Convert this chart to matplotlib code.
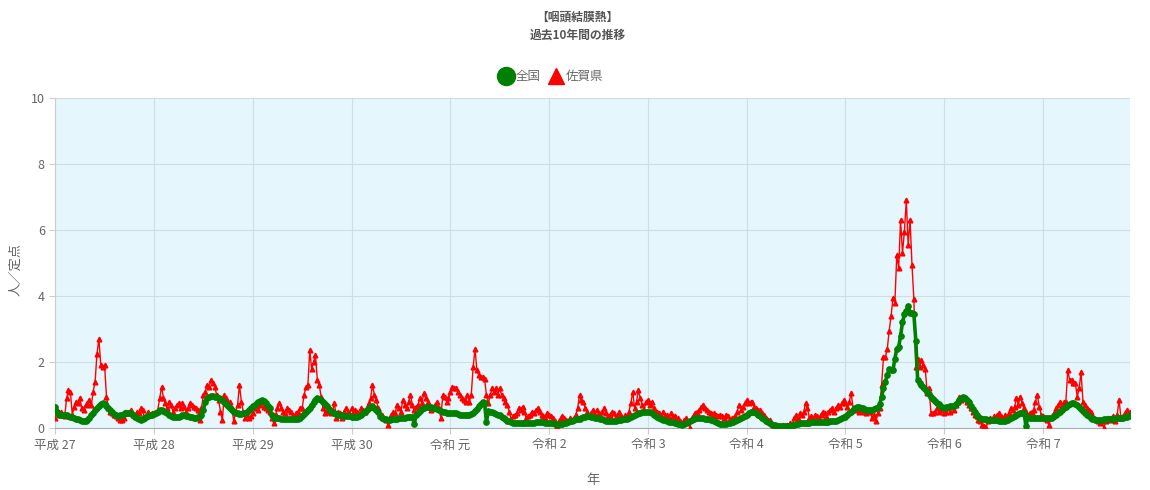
# -*- coding: utf-8 -*-
# %% importing
import matplotlib as mpl
from matplotlib import pyplot as plt
import numpy as np

plt.rcParams['font.family'] = ['Noto Sans CJK JP', 'DejaVu Sans']

# %% data (weekly values, 人/定点)
year_labels = ['平成 27', '平成 28', '平成 29', '平成 30', '令和 元', '令和 2',
               '令和 3', '令和 4', '令和 5', '令和 6', '令和 7']

# 全国
zenkoku_h27 = [0.65, 0.50, 0.40, 0.38, 0.40, 0.40, 0.38, 0.36, 0.34, 0.32, 0.30, 0.28, 0.26,
               0.24, 0.22, 0.20, 0.21, 0.24, 0.30, 0.38, 0.46, 0.54, 0.62, 0.68, 0.74, 0.76,
               0.73, 0.68, 0.62, 0.55, 0.48, 0.42, 0.38, 0.36, 0.38, 0.40, 0.42, 0.44, 0.45,
               0.45, 0.44, 0.40, 0.34, 0.30, 0.26, 0.25, 0.26, 0.30, 0.34, 0.36, 0.38, 0.40]
zenkoku_h28 = [0.42, 0.46, 0.50, 0.54, 0.55, 0.52, 0.48, 0.44, 0.40, 0.36, 0.34, 0.33, 0.33,
               0.34, 0.36, 0.38, 0.38, 0.36, 0.35, 0.34, 0.32, 0.30, 0.30, 0.32, 0.35, 0.40,
               0.55, 0.80, 0.90, 0.94, 0.96, 0.96, 0.95, 0.93, 0.90, 0.88, 0.85, 0.80, 0.74,
               0.68, 0.62, 0.56, 0.50, 0.46, 0.44, 0.42, 0.42, 0.44, 0.46, 0.50, 0.56, 0.62]
zenkoku_h29 = [0.66, 0.70, 0.75, 0.80, 0.82, 0.85, 0.82, 0.76, 0.68, 0.60, 0.40, 0.30, 0.30,
               0.29, 0.29, 0.28, 0.28, 0.28, 0.27, 0.27, 0.27, 0.27, 0.26, 0.26, 0.27, 0.30,
               0.36, 0.42, 0.48, 0.55, 0.62, 0.70, 0.78, 0.85, 0.90, 0.88, 0.84, 0.80, 0.74,
               0.66, 0.58, 0.52, 0.48, 0.45, 0.42, 0.40, 0.40, 0.38, 0.37, 0.36, 0.35, 0.35]
zenkoku_h30 = [0.34, 0.33, 0.33, 0.34, 0.36, 0.40, 0.45, 0.50, 0.56, 0.62, 0.65, 0.66, 0.62,
               0.56, 0.50, 0.36, 0.30, 0.28, 0.26, 0.25, 0.25, 0.26, 0.27, 0.28, 0.28, 0.29,
               0.30, 0.30, 0.31, 0.32, 0.33, 0.34, 0.34, 0.12, 0.40, 0.46, 0.52, 0.58, 0.62,
               0.64, 0.65, 0.65, 0.64, 0.62, 0.60, 0.57, 0.54, 0.52, 0.50, 0.48, 0.46, 0.45]
zenkoku_r1 = [0.44, 0.44, 0.45, 0.44, 0.42, 0.40, 0.40, 0.38, 0.38, 0.38, 0.40, 0.42, 0.46,
              0.52, 0.58, 0.66, 0.74, 0.80, 0.76, 0.18, 0.52, 0.50, 0.48, 0.45, 0.42, 0.40,
              0.38, 0.34, 0.30, 0.26, 0.22, 0.20, 0.18, 0.16, 0.15, 0.14, 0.14, 0.14, 0.14,
              0.15, 0.15, 0.15, 0.15, 0.16, 0.16, 0.17, 0.18, 0.18, 0.18, 0.17, 0.16, 0.16]
zenkoku_r2 = [0.16, 0.15, 0.14, 0.13, 0.12, 0.12, 0.12, 0.13, 0.14, 0.16, 0.18, 0.20, 0.22,
              0.24, 0.26, 0.27, 0.28, 0.30, 0.32, 0.34, 0.35, 0.35, 0.34, 0.32, 0.31, 0.30,
              0.30, 0.28, 0.26, 0.24, 0.22, 0.21, 0.20, 0.20, 0.21, 0.22, 0.23, 0.24, 0.25,
              0.26, 0.27, 0.28, 0.30, 0.33, 0.36, 0.39, 0.42, 0.44, 0.46, 0.48, 0.50, 0.50]
zenkoku_r3 = [0.50, 0.48, 0.44, 0.40, 0.36, 0.33, 0.30, 0.27, 0.25, 0.23, 0.21, 0.19, 0.18,
              0.17, 0.16, 0.15, 0.13, 0.11, 0.10, 0.12, 0.15, 0.18, 0.21, 0.24, 0.27, 0.29,
              0.30, 0.31, 0.30, 0.29, 0.28, 0.27, 0.26, 0.25, 0.23, 0.20, 0.17, 0.15, 0.13,
              0.12, 0.12, 0.13, 0.14, 0.15, 0.17, 0.19, 0.22, 0.25, 0.28, 0.31, 0.34, 0.37]
zenkoku_r4 = [0.40, 0.44, 0.48, 0.50, 0.48, 0.44, 0.40, 0.35, 0.30, 0.26, 0.22, 0.18, 0.15,
              0.12, 0.10, 0.08, 0.07, 0.06, 0.05, 0.05, 0.05, 0.05, 0.06, 0.07, 0.08, 0.10,
              0.11, 0.13, 0.14, 0.15, 0.15, 0.16, 0.16, 0.16, 0.17, 0.17, 0.17, 0.18, 0.18,
              0.18, 0.18, 0.19, 0.19, 0.19, 0.20, 0.20, 0.21, 0.22, 0.24, 0.27, 0.30, 0.34]
zenkoku_r5 = [0.34, 0.38, 0.44, 0.50, 0.55, 0.60, 0.65, 0.64, 0.62, 0.60, 0.58, 0.56, 0.55,
              0.55, 0.56, 0.58, 0.60, 0.62, 0.72, 0.95, 1.20, 1.40, 1.60, 1.80, 1.75, 1.75,
              2.10, 2.40, 2.45, 2.80, 3.20, 3.45, 3.55, 3.70, 3.50, 3.50, 3.45, 2.65, 1.45,
              1.35, 1.30, 1.25, 1.18, 1.10, 1.02, 0.95, 0.88, 0.82, 0.76, 0.72, 0.68, 0.65]
zenkoku_r6 = [0.62, 0.64, 0.65, 0.66, 0.66, 0.68, 0.72, 0.78, 0.85, 0.90, 0.94, 0.92, 0.86,
              0.78, 0.68, 0.58, 0.48, 0.40, 0.34, 0.30, 0.28, 0.27, 0.26, 0.25, 0.25, 0.25,
              0.25, 0.25, 0.24, 0.22, 0.21, 0.20, 0.21, 0.23, 0.26, 0.30, 0.34, 0.37, 0.40,
              0.42, 0.44, 0.45, 0.46, 0.05, 0.32, 0.30, 0.30, 0.30, 0.30, 0.30, 0.30, 0.30]
zenkoku_r7 = [0.30, 0.30, 0.30, 0.30, 0.31, 0.33, 0.36, 0.40, 0.45, 0.50, 0.55, 0.60, 0.65,
              0.70, 0.73, 0.75, 0.76, 0.74, 0.70, 0.64, 0.58, 0.52, 0.46, 0.40, 0.35, 0.31,
              0.28, 0.26, 0.25, 0.25, 0.25, 0.25, 0.26, 0.26, 0.27, 0.27, 0.28, 0.28, 0.29,
              0.30, 0.30, 0.30, 0.31, 0.32, 0.33, 0.35, 0.38]

# 佐賀県
saga_h27 = [0.30, 0.55, 0.45, 0.50, 0.40, 0.35, 0.90, 1.15, 1.10, 0.40, 0.65, 0.80, 0.75,
            0.90, 0.60, 0.55, 0.70, 0.75, 0.85, 0.70, 1.10, 1.40, 2.25, 2.70, 1.90, 1.85,
            1.90, 0.95, 0.60, 0.50, 0.45, 0.40, 0.35, 0.30, 0.25, 0.25, 0.30, 0.50, 0.45,
            0.50, 0.55, 0.40, 0.35, 0.50, 0.45, 0.60, 0.55, 0.30, 0.35, 0.50, 0.40, 0.45]
saga_h28 = [0.45, 0.50, 0.55, 0.90, 1.25, 0.90, 0.75, 0.60, 0.80, 0.70, 0.50, 0.60, 0.70,
            0.75, 0.60, 0.75, 0.65, 0.50, 0.60, 0.75, 0.70, 0.65, 0.60, 0.55, 0.25, 0.60,
            1.00, 1.10, 1.30, 1.25, 1.45, 1.35, 1.25, 1.00, 0.85, 0.50, 0.25, 1.00, 0.90,
            0.75, 0.80, 0.60, 0.20, 0.50, 0.70, 1.30, 0.80, 0.50, 0.30, 0.40, 0.30, 0.35]
saga_h29 = [0.45, 0.60, 0.80, 0.55, 0.70, 0.80, 0.65, 0.60, 0.55, 0.50, 0.30, 0.15, 0.40,
            0.60, 0.75, 0.60, 0.50, 0.45, 0.60, 0.55, 0.50, 0.40, 0.35, 0.45, 0.50, 0.60,
            0.60, 1.00, 1.25, 1.30, 2.35, 1.80, 2.00, 2.20, 1.45, 1.30, 0.95, 0.60, 0.45,
            0.50, 0.60, 0.45, 0.50, 0.75, 0.30, 0.50, 0.45, 0.30, 0.50, 0.60, 0.50, 0.40]
saga_h30 = [0.60, 0.45, 0.55, 0.50, 0.40, 0.60, 0.55, 0.50, 0.60, 0.75, 0.90, 1.30, 1.00,
            0.85, 0.60, 0.35, 0.40, 0.30, 0.25, 0.10, 0.30, 0.40, 0.50, 0.45, 0.70, 0.60,
            0.50, 0.85, 0.70, 0.60, 0.80, 1.00, 0.70, 0.55, 0.65, 0.70, 0.90, 0.75, 1.05,
            0.90, 0.80, 0.70, 0.55, 0.60, 0.70, 0.80, 0.60, 0.30, 1.00, 0.95, 0.80, 0.90]
saga_r1 = [1.10, 1.25, 1.20, 1.20, 1.10, 1.00, 0.90, 0.85, 0.80, 1.00, 0.80, 1.00, 1.85,
           2.40, 1.75, 1.60, 1.55, 1.55, 1.50, 1.00, 0.75, 1.00, 1.20, 1.10, 1.20, 1.00,
           1.20, 1.00, 0.90, 0.80, 0.70, 0.50, 0.25, 0.35, 0.40, 0.45, 0.60, 0.55, 0.65,
           0.50, 0.30, 0.35, 0.40, 0.50, 0.45, 0.55, 0.60, 0.50, 0.40, 0.35, 0.30, 0.45]
saga_r2 = [0.40, 0.35, 0.30, 0.20, 0.05, 0.20, 0.30, 0.35, 0.30, 0.25, 0.20, 0.30, 0.25,
           0.30, 0.40, 0.60, 1.00, 0.85, 0.80, 0.60, 0.50, 0.40, 0.45, 0.55, 0.40, 0.55,
           0.45, 0.35, 0.50, 0.60, 0.45, 0.35, 0.40, 0.50, 0.45, 0.30, 0.40, 0.50, 0.35,
           0.30, 0.40, 0.35, 0.50, 0.75, 1.10, 0.60, 0.80, 1.15, 0.90, 0.70, 0.55, 0.80]
saga_r3 = [0.85, 0.70, 0.80, 0.60, 0.45, 0.50, 0.45, 0.35, 0.50, 0.40, 0.40, 0.30, 0.45,
           0.35, 0.35, 0.25, 0.30, 0.20, 0.15, 0.25, 0.30, 0.20, 0.00, 0.30, 0.40, 0.45,
           0.50, 0.55, 0.65, 0.70, 0.60, 0.55, 0.50, 0.45, 0.40, 0.45, 0.40, 0.35, 0.40,
           0.35, 0.30, 0.40, 0.35, 0.25, 0.30, 0.30, 0.35, 0.50, 0.70, 0.55, 0.65, 0.75]
saga_r4 = [0.85, 0.75, 0.80, 0.80, 0.65, 0.60, 0.55, 0.55, 0.45, 0.40, 0.30, 0.25, 0.25,
           0.15, 0.10, 0.05, 0.10, 0.05, 0.00, 0.10, 0.05, 0.10, 0.05, 0.15, 0.10, 0.30,
           0.40, 0.30, 0.45, 0.40, 0.50, 0.75, 0.60, 0.30, 0.35, 0.25, 0.40, 0.35, 0.30,
           0.40, 0.50, 0.45, 0.35, 0.50, 0.55, 0.60, 0.50, 0.60, 0.70, 0.65, 0.75, 0.85]
saga_r5 = [0.75, 0.65, 0.80, 1.05, 0.60, 0.55, 0.60, 0.50, 0.60, 0.55, 0.50, 0.45, 0.55,
           0.50, 0.30, 0.40, 0.20, 0.45, 0.60, 1.30, 2.15, 2.15, 2.40, 2.95, 3.40, 3.95,
           3.80, 5.25, 4.85, 6.30, 5.30, 5.95, 6.90, 5.55, 6.30, 4.95, 3.90, 1.85, 2.10,
           1.85, 2.05, 1.90, 1.80, 1.05, 1.20, 0.45, 0.45, 0.50, 0.60, 0.50, 0.55, 0.65]
saga_r6 = [0.45, 0.50, 0.60, 0.50, 0.65, 0.55, 0.70, 0.80, 0.95, 0.85, 0.90, 0.95, 0.80,
           0.70, 0.60, 0.50, 0.40, 0.35, 0.25, 0.20, 0.10, 0.05, 0.00, 0.20, 0.30, 0.25,
           0.35, 0.30, 0.40, 0.45, 0.35, 0.30, 0.40, 0.25, 0.45, 0.60, 0.55, 0.65, 0.90,
           0.70, 0.95, 0.75, 0.60, 0.50, 0.40, 0.45, 0.50, 0.55, 0.80, 1.00, 0.65, 0.40]
saga_r7 = [0.35, 0.30, 0.25, 0.10, 0.30, 0.40, 0.45, 0.60, 0.70, 0.80, 0.65, 0.80, 0.80,
           1.75, 1.45, 1.45, 1.35, 1.35, 0.95, 1.20, 1.70, 0.80, 0.70, 0.60, 0.55, 0.50,
           0.40, 0.30, 0.25, 0.20, 0.15, 0.20, 0.00, 0.20, 0.30, 0.25, 0.30, 0.35, 0.20,
           0.40, 0.85, 0.30, 0.35, 0.45, 0.55, 0.40, 0.50]

zenkoku = (zenkoku_h27 + zenkoku_h28 + zenkoku_h29 + zenkoku_h30 + zenkoku_r1 + zenkoku_r2
           + zenkoku_r3 + zenkoku_r4 + zenkoku_r5 + zenkoku_r6 + zenkoku_r7)
saga = (saga_h27 + saga_h28 + saga_h29 + saga_h30 + saga_r1 + saga_r2
        + saga_r3 + saga_r4 + saga_r5 + saga_r6 + saga_r7)

# x positions: week index, tick at first week of each year
year_lengths = [len(zenkoku_h27), len(zenkoku_h28), len(zenkoku_h29), len(zenkoku_h30),
                len(zenkoku_r1), len(zenkoku_r2), len(zenkoku_r3), len(zenkoku_r4),
                len(zenkoku_r5), len(zenkoku_r6), len(zenkoku_r7)]
tick_pos = np.concatenate([[0], np.cumsum(year_lengths)[:-1]])
x = np.arange(len(zenkoku))

# %% plotting
fig = plt.figure(figsize=(11.5, 4.9), dpi=100)
ax = fig.add_axes([0.048, 0.1265, 0.935, 0.6735])
ax.set_facecolor('#e5f7fd')

ax.plot(x, saga, color='#ff0000', linewidth=1.0, marker='^', markersize=3.4,
        label='佐賀県', zorder=3)
ax.plot(x, zenkoku, color='#008000', linewidth=2.6, marker='o', markersize=3.8,
        label='全国', zorder=4)

ax.set_xlim(0, len(zenkoku) - 1)
ax.set_ylim(0, 10)
ax.set_yticks([0, 2, 4, 6, 8, 10])
ax.set_xticks(tick_pos)
ax.set_xticklabels(year_labels)
ax.tick_params(axis='both', labelsize=9, colors='#666666', length=4, color='#cccccc')
ax.grid(True, color='#d0dde3', linewidth=0.8)
ax.set_axisbelow(True)
for s in ['top', 'right']:
    ax.spines[s].set_visible(False)
ax.spines['left'].set_color('#cccccc')
ax.spines['bottom'].set_color('#aaaaaa')

fig.text(0.014, 0.45, '人／定点', rotation=90, ha='center', va='center',
         fontsize=9.5, color='#666666')
ax.set_xlabel('年', fontsize=9.5, color='#666666', labelpad=16)

fig.text(0.502, 0.965, '【咽頭結膜熱】', ha='center', va='center', fontsize=8.5,
         fontweight='bold', color='#555555')
fig.text(0.502, 0.928, '過去10年間の推移', ha='center', va='center', fontsize=8.5,
         fontweight='bold', color='#555555')

# legend
h_green = plt.Line2D([], [], color='#008000', marker='o', markersize=13, linestyle='None')
h_red = plt.Line2D([], [], color='#ff0000', marker='^', markersize=11, linestyle='None')
fig.legend([h_green, h_red], ['全国', '佐賀県'], loc='center', bbox_to_anchor=(0.479, 0.843),
           ncol=2, frameon=False, fontsize=9, handletextpad=0.2, columnspacing=0.6,
           handlelength=1.2, labelcolor='#666666')

plt.savefig('out.png', dpi=100)
